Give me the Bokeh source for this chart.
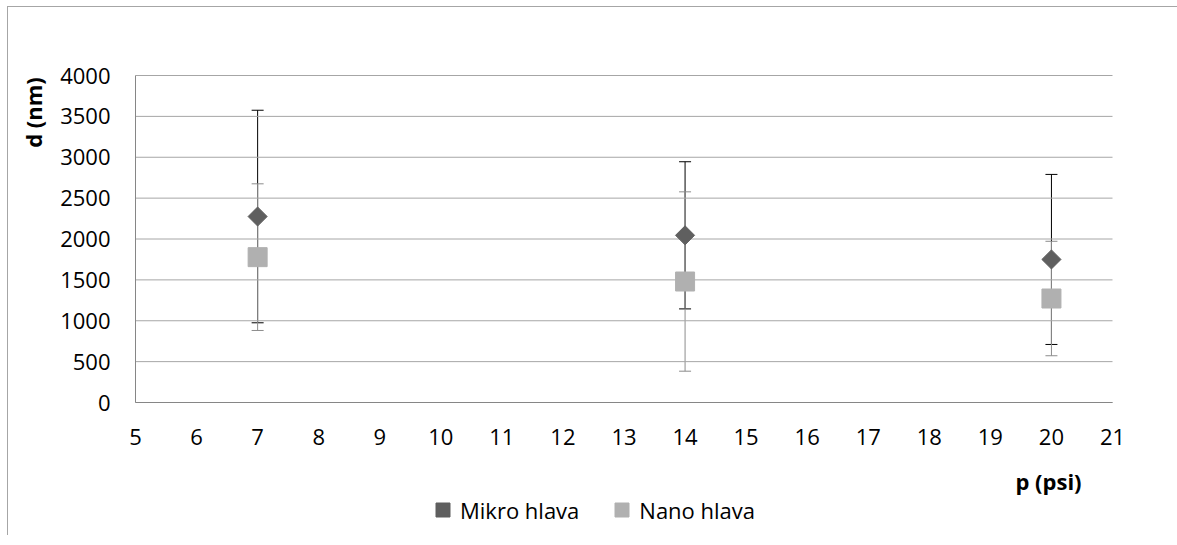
import math
from bokeh.plotting import figure
from bokeh.models import (ColumnDataSource, Whisker, TeeHead, Legend, LegendItem,
                          Label, FixedTicker, Range1d)
from bokeh.embed import file_html
from bokeh.resources import INLINE

# ---- data ----
pressure = [7, 14, 20]
mikro = [2275, 2045, 1750]
mikro_err = [1300, 900, 1040]
nano = [1778, 1480, 1272]
nano_err = [897, 1097, 700]
x_ticks = list(range(5, 22))
y_ticks = list(range(0, 4001, 500))
series_names = ["Mikro hlava", "Nano hlava"]
x_title = "p (psi)"
y_title = "d (nm)"

FONT = "Open Sans"
FS = "22px"

# ---- layout (page pixels) ----
CANVAS_L, CANVAS_T = 8, 7          # canvas top-left on the page
CANVAS_W, CANVAS_H = 1169, 528
AX_L, AX_R = 135, 1112             # pixel positions of x = 5 and x = 21
AX_B, AX_T = 402, 75               # pixel positions of y = 0 and y = 4000
X0, X1 = x_ticks[0], x_ticks[-1]
Y0, Y1 = y_ticks[0], y_ticks[-1]
sx = (X1 - X0) / (AX_R - AX_L)
sy = (Y1 - Y0) / (AX_B - AX_T)

def px_x(px):
    return X0 + (px - AX_L) * sx

def px_y(py):
    return Y0 + (AX_B - py) * sy

p = figure(frame_width=CANVAS_W, frame_height=CANVAS_H, output_backend="svg",
           toolbar_location=None,
           x_range=Range1d(px_x(CANVAS_L), px_x(CANVAS_L + CANVAS_W)),
           y_range=Range1d(px_y(CANVAS_T + CANVAS_H), px_y(CANVAS_T)),
           min_border_left=0, min_border_top=0, min_border_right=0,
           min_border_bottom=0)
p.outline_line_color = None
p.background_fill_color = "white"
p.border_fill_color = "white"
p.styles = {"margin-left": "7px", "margin-top": "6px",
            "border-left": "1px solid #a6a6a6", "border-top": "1px solid #a6a6a6"}

p.xgrid.grid_line_color = None
p.ygrid.grid_line_color = None

# horizontal gridlines spanning the x axis extent
p.segment(x0=[X0] * len(y_ticks), x1=[X1] * len(y_ticks), y0=y_ticks, y1=y_ticks,
          line_color="#a6a6a6", line_width=1)

for ax in (p.xaxis[0], p.yaxis[0]):
    ax.axis_line_color = "#868686"
    ax.major_tick_line_color = None
    ax.minor_tick_line_color = None
    ax.major_tick_out = 0
    ax.major_tick_in = 0
    ax.minor_tick_out = 0
    ax.minor_tick_in = 0
    ax.major_label_text_font = FONT
    ax.major_label_text_font_size = FS
    ax.major_label_text_color = "#000000"
p.xaxis.ticker = FixedTicker(ticks=x_ticks)
p.yaxis.ticker = FixedTicker(ticks=y_ticks)
p.xaxis.fixed_location = Y0
p.yaxis.fixed_location = X0
p.xaxis.bounds = (X0, X1)
p.yaxis.bounds = (Y0, Y1)
p.xaxis.major_label_standoff = 26
p.yaxis.major_label_standoff = 25

src_m = ColumnDataSource(dict(x=pressure, y=mikro,
                              lo=[a - b for a, b in zip(mikro, mikro_err)],
                              hi=[a + b for a, b in zip(mikro, mikro_err)]))
src_n = ColumnDataSource(dict(x=pressure, y=nano,
                              lo=[a - b for a, b in zip(nano, nano_err)],
                              hi=[a + b for a, b in zip(nano, nano_err)]))

w_m = Whisker(source=src_m, base="x", lower="lo", upper="hi", dimension="height",
              line_color="#000000", line_width=1,
              upper_head=TeeHead(size=12, line_color="#000000", line_width=1),
              lower_head=TeeHead(size=12, line_color="#000000", line_width=1))
w_n = Whisker(source=src_n, base="x", lower="lo", upper="hi", dimension="height",
              line_color="#8c8c8c", line_width=1,
              upper_head=TeeHead(size=12, line_color="#8c8c8c", line_width=1),
              lower_head=TeeHead(size=12, line_color="#8c8c8c", line_width=1))
p.add_layout(w_m)
p.add_layout(w_n)

r_m = p.scatter("x", "y", source=src_m, marker="square", size=13.5, angle=math.pi / 4,
                fill_color="#5f5f5f", line_color="#5f5f5f")
r_n = p.scatter("x", "y", source=src_n, marker="square", size=19,
                fill_color="#b0b0b0", line_color="#b0b0b0")

p.add_layout(Label(x=px_x(32), y=px_y(112), text=y_title, text_font=FONT,
                   text_font_size=FS, text_font_style="bold", text_color="#000000",
                   angle=math.pi / 2, text_align="center", text_baseline="middle"))
p.add_layout(Label(x=px_x(1048), y=px_y(480), text=x_title, text_font=FONT,
                   text_font_size=FS, text_font_style="bold", text_color="#000000",
                   text_align="center", text_baseline="middle"))

legend = Legend(items=[LegendItem(label=series_names[0], renderers=[r_m]),
                       LegendItem(label=series_names[1], renderers=[r_n])],
                orientation="horizontal", location=(425 - CANVAS_L, 8),
                border_line_color=None, background_fill_alpha=0,
                label_text_font=FONT, label_text_font_size=FS,
                label_text_color="#000000",
                glyph_width=35, glyph_height=35, spacing=25, padding=0,
                label_standoff=0, margin=0)
p.add_layout(legend)

open("out.html", "w").write(file_html(p, INLINE))
